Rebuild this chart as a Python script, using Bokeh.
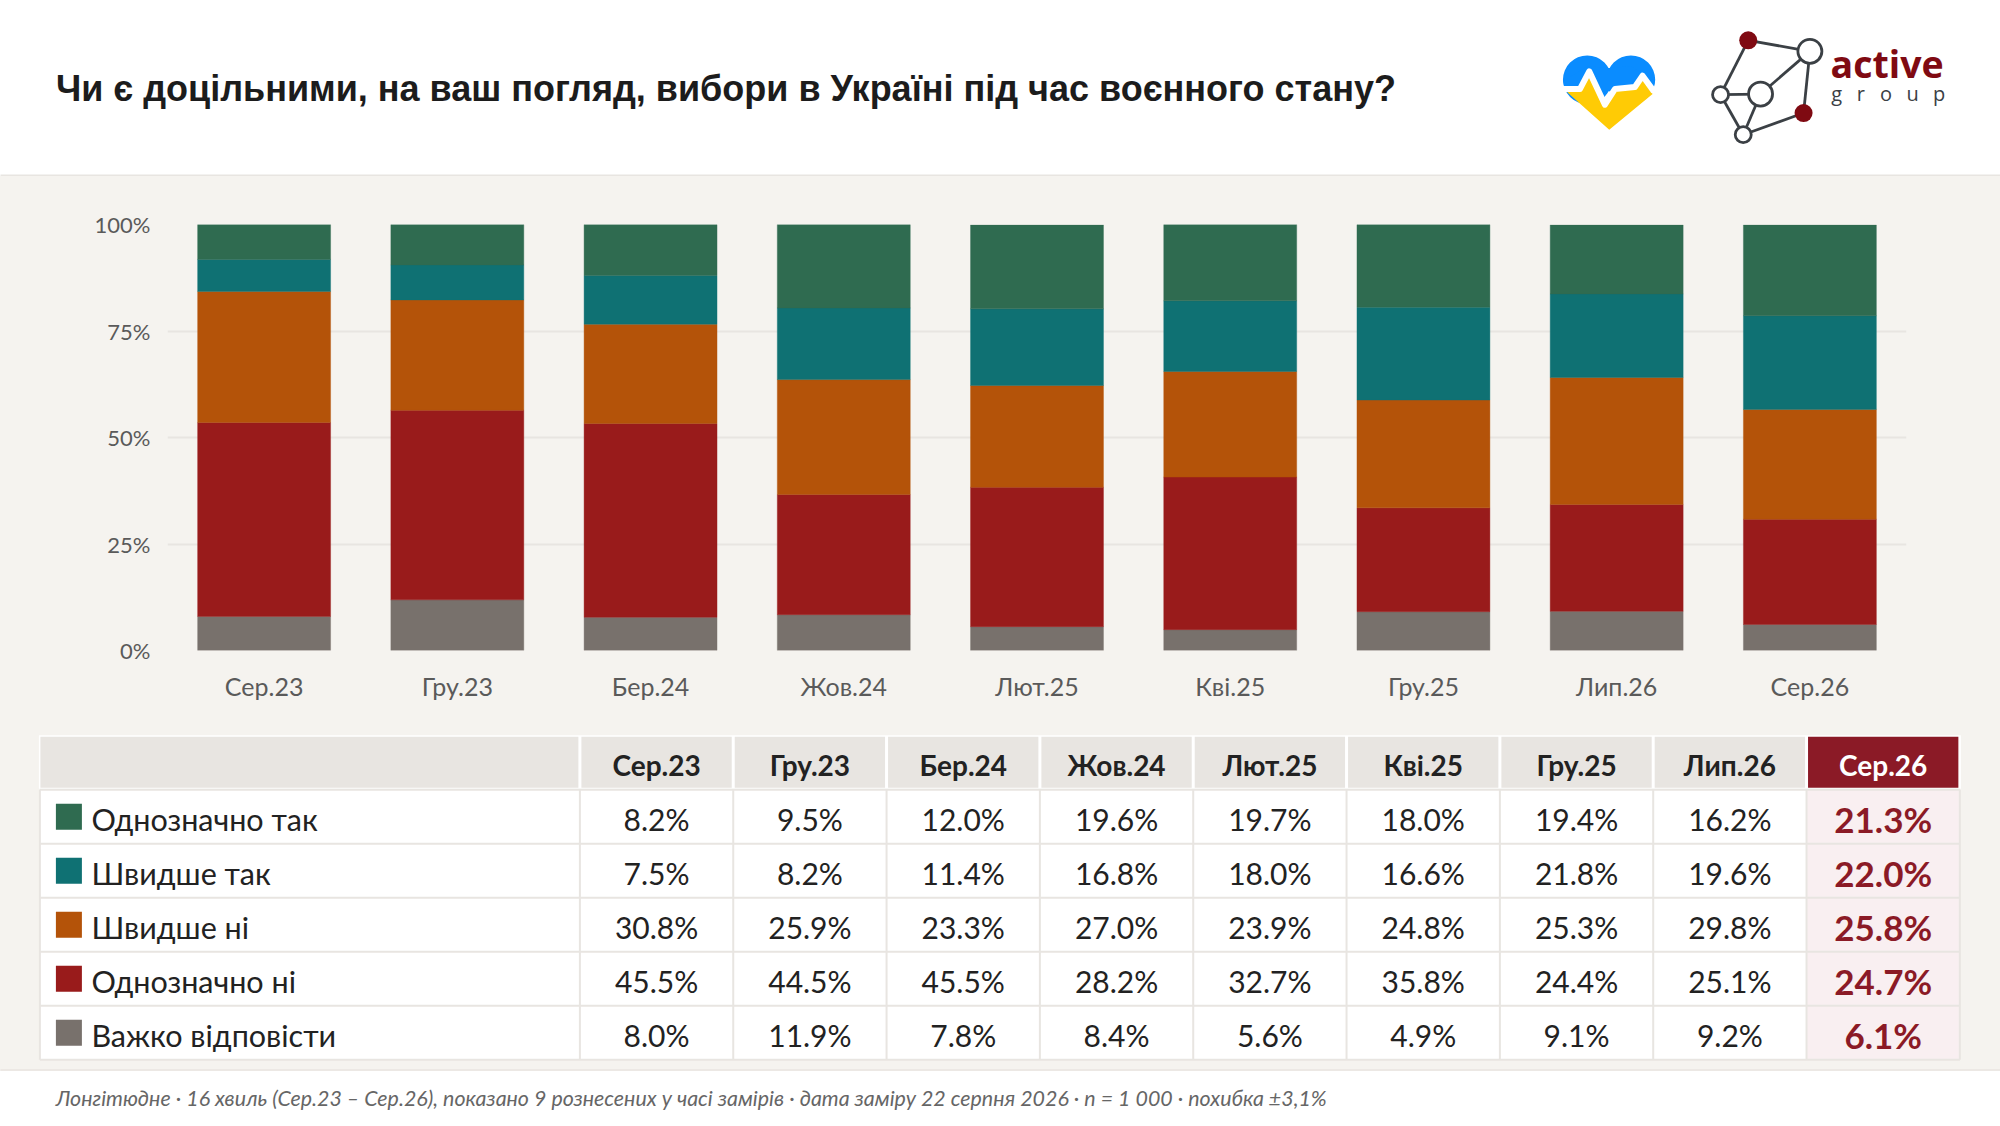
from bokeh.plotting import figure
from bokeh.models import FactorRange, Range1d, PrintfTickFormatter, FixedTicker, ColumnDataSource
from bokeh.layouts import column
from bokeh.core.properties import value
from bokeh.embed import file_html
from bokeh.resources import INLINE
import numpy as np

waves = ["Сер.23", "Гру.23", "Бер.24", "Жов.24", "Лют.25", "Кві.25", "Гру.25", "Лип.26", "Сер.26"]
series_names = ["Однозначно так", "Швидше так", "Швидше ні", "Однозначно ні", "Важко відповісти"]
definitely_yes = [8.2, 9.5, 12.0, 19.6, 19.7, 18.0, 19.4, 16.2, 21.3]
rather_yes = [7.5, 8.2, 11.4, 16.8, 18.0, 16.6, 21.8, 19.6, 22.0]
rather_no = [30.8, 25.9, 23.3, 27.0, 23.9, 24.8, 25.3, 29.8, 25.8]
definitely_no = [45.5, 44.5, 45.5, 28.2, 32.7, 35.8, 24.4, 25.1, 24.7]
hard_to_say = [8.0, 11.9, 7.8, 8.4, 5.6, 4.9, 9.1, 9.2, 6.1]
y_ticks = [0, 25, 50, 75, 100]
title = "Чи є доцільними, на ваш погляд, вибори в Україні під час воєнного стану?"
footnote = "Лонгітюдне · 16 хвиль (Сер.23 – Сер.26), показано 9 рознесених у часі замірів · дата заміру 22 серпня 2026 · n = 1 000 · похибка ±3,1%"

series_values = [definitely_yes, rather_yes, rather_no, definitely_no, hard_to_say]
series_colors = ["#2f6b50", "#0f7173", "#b45309", "#991b1b", "#78716c"]

BODY = "#f5f3ef"
LINE = "#e8e5e1"
ACCENT = "#8b1a26"
INK = "#222222"
FONT = "Lato"
W = 2000


def canvas(y0, y1, bg):
    p = figure(width=W, height=y1 - y0, x_range=Range1d(0.6, W + 0.6), y_range=Range1d(y1 + 0.8, y0 + 0.8),
               output_backend="svg", toolbar_location=None, min_border=0, frame_align=False,
               background_fill_color=bg, border_fill_color=bg, outline_line_color=None,
               styles={"background-color": bg})
    p.axis.visible = False
    p.grid.visible = False
    return p


# ---- header
head = canvas(0, 176, "#ffffff")
head.segment(0, 175.5, W + 2, 175.5, line_color=LINE, line_width=1.5)
head.text([56], [89], text=[title], text_font=value("Liberation Sans"), text_font_style="bold",
          text_font_size="36px", text_color="#1c1c1c", text_align="left", text_baseline="middle")


def zx(v):
    return 1500 + np.asarray(v, dtype=float) / 3


def zy(v):
    return np.asarray(v, dtype=float) / 3


# heart mark
BLUE, YEL = "#0a8cff", "#ffcb05"
for cx in (262, 393):
    head.circle(zx([cx]), zy([240]), radius=24.3, fill_color=BLUE, line_color=None)
head.patch(zx([190, 200, 456, 465, 393, 328, 262]), zy([245, 275, 275, 245, 200, 205, 200]),
           fill_color=BLUE, line_color=None)
head.patch(zx([202, 240, 268, 315, 345, 405, 428, 458, 328]), zy([278, 272, 225, 322, 270, 268, 240, 283, 390]),
           fill_color=YEL, line_color=None)
head.line(zx([190, 240, 268, 315, 345, 405, 428, 462]), zy([268, 268, 215, 315, 268, 262, 228, 275]),
          line_color="#ffffff", line_width=6, line_join="round")

# network mark
nx = {"r1": (745, 122, 9, "#7f0a12"), "w1": (930, 155, 12, "#ffffff"), "c": (782, 283, 12, "#ffffff"),
      "l": (662, 285, 8, "#ffffff"), "b": (730, 405, 8, "#ffffff"), "r2": (911, 340, 9, "#7f0a12")}
edges = [("r1", "w1"), ("r1", "l"), ("w1", "c"), ("w1", "r2"), ("c", "l"), ("c", "b"), ("l", "b"), ("b", "r2")]
for a, b in edges:
    head.line(zx([nx[a][0], nx[b][0]]), zy([nx[a][1], nx[b][1]]), line_color="#3b4045", line_width=2.8)
for k, (x, y, r, c) in nx.items():
    head.circle(zx([x]), zy([y]), radius=r, fill_color=c,
                line_color=None if c != "#ffffff" else "#3b4045", line_width=2.8)
head.text(zx([992]), zy([192]), text=["active"], text_font=value("Open Sans"), text_font_style="bold",
          text_font_size="37.5px", text_color="#7f0a12", text_align="left", text_baseline="middle")
head.text(zx([1010, 1083, 1158, 1238, 1318]), zy([281] * 5), text=list("group"), text_font=value("Open Sans"),
          text_font_size="20px", text_color="#3b4045", text_align="center", text_baseline="middle")

# ---- chart
chart = figure(width=W, height=725 - 176, x_range=FactorRange(factors=waves), y_range=Range1d(0, 100),
               output_backend="svg", toolbar_location=None, min_border_left=167, min_border_right=94,
               min_border_top=48, min_border_bottom=75, background_fill_color=BODY, border_fill_color=BODY,
               outline_line_color=None, frame_align=False, styles={"background-color": BODY})
stack_keys = ["hard", "dno", "rno", "ryes", "dyes"]
src = ColumnDataSource(dict(x=waves, hard=hard_to_say, dno=definitely_no, rno=rather_no,
                            ryes=rather_yes, dyes=definitely_yes))
chart.vbar_stack(stack_keys, x="x", width=0.688, source=src, color=series_colors[::-1], line_width=0.4)
chart.xgrid.visible = False
chart.ygrid.ticker = FixedTicker(ticks=y_ticks)
chart.ygrid.grid_line_color = LINE
chart.ygrid.grid_line_width = 2
chart.yaxis.ticker = FixedTicker(ticks=y_ticks)
chart.yaxis.formatter = PrintfTickFormatter(format="%d%%")
for ax in (chart.xaxis[0], chart.yaxis[0]):
    ax.axis_line_color = None
    ax.major_tick_line_color = None
    ax.minor_tick_line_color = None
    ax.major_label_text_font = FONT
    ax.major_label_text_color = "#5a5a5a"
chart.xaxis[0].major_label_text_font_size = "25px"
chart.yaxis[0].major_label_text_font_size = "22px"
chart.yaxis[0].major_label_standoff = 11
chart.xaxis[0].major_label_standoff = 14

# ---- table
tab = canvas(725, 1071, BODY)
tab.segment(0, 1070.3, W + 2, 1070.3, line_color=LINE, line_width=1.5)
col_x = [580 + 153.33 * i for i in range(10)]
row_y = [790 + 54 * i for i in range(6)]
tab.quad(left=[39], right=[1961], top=[735.5], bottom=[789], fill_color="#ffffff", line_color=None)
tab.quad(left=[40.5], right=[578.5], top=[737], bottom=[788], fill_color=LINE, line_color=None)
tab.quad(left=[x + 1.5 for x in col_x[:-1]], right=[x - 1.5 for x in col_x[1:]], top=[737] * 9, bottom=[788] * 9,
         fill_color=[LINE] * 8 + [ACCENT], line_color=None)
tab.text([(a + b) / 2 for a, b in zip(col_x[:-1], col_x[1:])], [765.5] * 9, text=waves,
         text_font=value(FONT), text_font_style="bold", text_font_size="28px",
         text_color=[INK] * 8 + ["#ffffff"], text_align="center", text_baseline="middle")
tab.quad(left=[40], right=[1960], top=[row_y[0]], bottom=[row_y[-1]], fill_color="#ffffff", line_color=None)
tab.quad(left=[col_x[8]], right=[col_x[9]], top=[row_y[0]], bottom=[row_y[-1]], fill_color="#f9eff1", line_color=None)
tab.segment(x0=[40] * 6, y0=row_y, x1=[1960] * 6, y1=row_y, line_color=LINE, line_width=2)
vx = [40] + col_x
tab.segment(x0=vx, y0=[row_y[0]] * len(vx), x1=vx, y1=[row_y[-1]] * len(vx), line_color=LINE, line_width=2)
for i, (name, vals, col) in enumerate(zip(series_names, series_values, series_colors)):
    yc = row_y[i] + 29
    tab.quad(left=[56], right=[82], top=[row_y[i] + 14], bottom=[row_y[i] + 40], fill_color=col, line_color=None)
    tab.text([91.5], [yc], text=[name], text_font=value(FONT), text_font_size="30.5px", text_color=INK,
             text_align="left", text_baseline="middle")
    for j, v in enumerate(vals):
        last = j == len(vals) - 1
        tab.text([(col_x[j] + col_x[j + 1]) / 2], [yc], text=[f"{v:.1f}%"], text_font=value(FONT),
                 text_font_style="bold" if last else "normal", text_font_size="35px" if last else "30px",
                 text_color=ACCENT if last else INK, text_align="center", text_baseline="middle")

# ---- footer
foot = canvas(1071, 1126, "#ffffff")
foot.text([56], [1098], text=[footnote], text_font=value(FONT), text_font_style="italic", text_font_size="21.4px",
          text_color="#666666", text_align="left", text_baseline="middle")

page = column(head, chart, tab, foot, spacing=0)
open("out.html", "w").write(file_html(page, INLINE))
